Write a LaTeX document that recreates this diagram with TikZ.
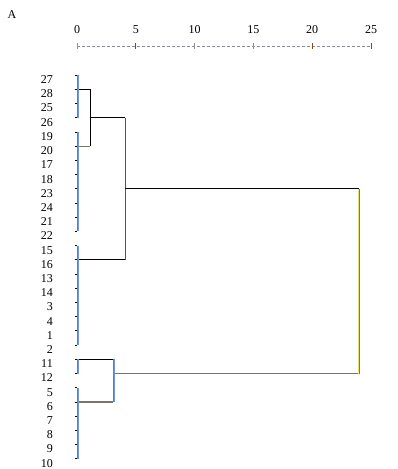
\documentclass[tikz,border=0pt]{standalone}
\usepackage{fontspec}
\setmainfont{Liberation Serif}
\usepackage{tikz}
\usetikzlibrary{calc}
\tikzset{>=latex}
\definecolor{leafblue}{RGB}{110,150,225}
\definecolor{leafbrown}{RGB}{150,120,80}
\definecolor{joinbrown}{RGB}{140,70,20}
\definecolor{joinyellow}{RGB}{235,225,110}
\definecolor{axisgray}{RGB}{140,140,150}
\definecolor{linegray}{RGB}{122,118,108}
\tikzset{
  rowlabel/.style={anchor=east, inner sep=0pt, font=\fontsize{12}{12}\selectfont},
  axislabel/.style={inner sep=0pt, font=\fontsize{12}{12}\selectfont},
  stub/.style={black, line width=0.8pt},
  leafline/.style={leafbrown, line width=0.8pt},
  leafedge/.style={leafblue, line width=0.6pt},
  joinblack/.style={black, line width=0.9pt},
  joingray/.style={draw=linegray, line width=1.2pt}
}

\begin{document}
\begin{tikzpicture}[x=1pt, y=-1pt]
\useasboundingbox (0,0) rectangle (398,469);
\node[axislabel] (title) at (12,15) {A};
% axis
\draw[axisgray, dashed, dash pattern=on 3pt off 2pt, line width=0.6pt] (77,46) -- (371,46);
\foreach \v/\tc in {0/leafblue,5/joinbrown,10/axisgray,15/leafblue,20/joinbrown,25/joinbrown} {
  \node[axislabel] (t\v) at ({77+11.76*\v},30) {\v};
  \draw[\tc, line width=0.7pt] ({77+11.76*\v},43) -- ({77+11.76*\v},49);
}
% joins (drawn first, leaves on top)
\foreach \n [count=\i from 0] in {27,28,25,26,19,20,17,18,23,24,21,22,15,16,13,14,3,4,1,2,11,12,5,6,7,8,9,10} {
  \coordinate (r\n) at (77,{75.1+14.21*\i});
}
\coordinate (m1) at (90,0);
\coordinate (m2) at (125,0);
\coordinate (m3) at (359,0);
\coordinate (m4) at (113,0);
\draw[joingray] (r20) -- (r20 -| m1);
\draw[joingray] (r6) -- (r6 -| m4);
\draw[joingray] (r12 -| m4) -- (r12 -| m3);
\draw[joingray] (r23 -| m3) -- (r12 -| m3);
\draw[joinyellow, line width=0.4pt] ($(r23 -| m3)+(-0.9,0)$) -- ($(r12 -| m3)+(-0.9,0)$);
\draw[joinblack] ($(r28)+(-2.5,0)$) -- (r28 -| m1);
\draw[joinblack] (r28 -| m1) -- (r20 -| m1);
\draw[joinblack] (r26 -| m1) -- (r26 -| m2);
\draw[joinblack] (r16) -- (r16 -| m2);
\draw[joinbrown, line width=0.9pt] (r26 -| m2) -- (r16 -| m2);
\draw[joinblack] (r23 -| m2) -- (r23 -| m3);
\draw[joinblack] (r11) -- (r11 -| m4);
\draw[leafline] (r11 -| m4) -- (r6 -| m4);
\draw[leafedge] ($(r11 -| m4)+(0.8,0)$) -- ($(r6 -| m4)+(0.8,0)$);
% leaves
\foreach \n [count=\i from 0] in {27,28,25,26,19,20,17,18,23,24,21,22,15,16,13,14,3,4,1,2,11,12,5,6,7,8,9,10} {
  \node[rowlabel] (l\n) at (53,{79.6+14.21*\i}) {\n};
  \draw[stub] ($(r\n)+(-2.5,0)$) -- (r\n);
}
\foreach \ga/\gb in {27/26,19/22,15/2,11/12,5/10} {
  \draw[leafline] (r\ga) -- (r\gb);
  \draw[leafedge] ($(r\ga)+(1,0)$) -- ($(r\gb)+(1,0)$);
}
\end{tikzpicture}
\end{document}
